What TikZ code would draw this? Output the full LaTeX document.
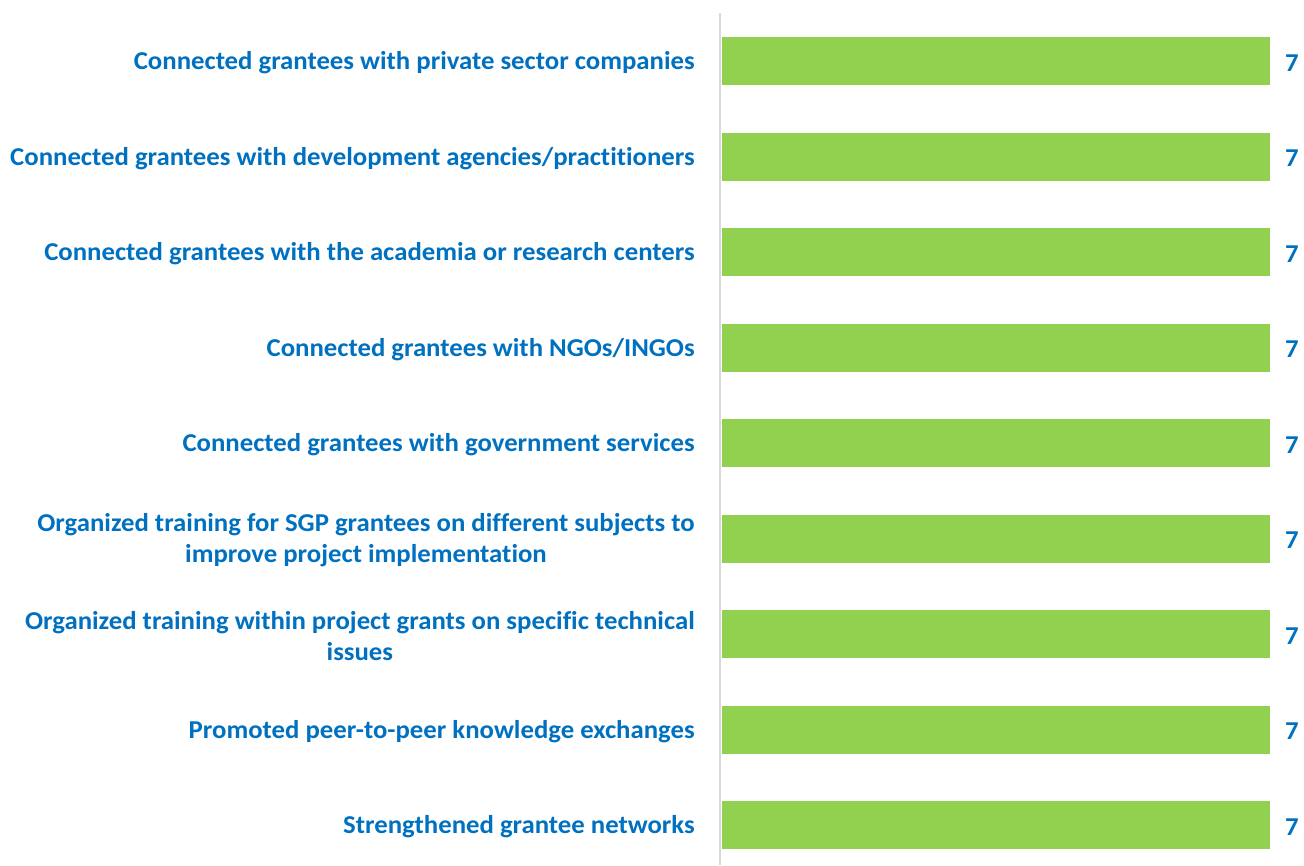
\documentclass[tikz,border=0pt]{standalone}
\usepackage{fontspec}
\setmainfont{Carlito}[Ligatures={NoCommon},FakeStretch=1.04]
\definecolor{lblue}{HTML}{0070C0}
\definecolor{bargreen}{HTML}{92D050}
\definecolor{axisgray}{HTML}{D9D9D9}
\begin{document}
\begin{tikzpicture}[x=0.75pt,y=-0.75pt,
  lbl/.style={anchor=east,align=center,text=lblue,font=\fontsize{19.3}{23.3}\selectfont\bfseries,inner sep=0pt},
  val/.style={text=lblue,font=\fontsize{19.3}{23}\selectfont\bfseries,inner sep=0pt},
  bar/.style={fill=bargreen,draw=none}]
\useasboundingbox (0,0) rectangle (1304,865);
\coordinate (axtop) at (720,13);
\coordinate (axbot) at (720,865);
\draw[axisgray,line width=1.5pt] (axtop) -- (axbot);
\foreach \i/\t in {1/{Connected grantees with private sector companies},
  2/{Connected grantees with development agencies/practitioners},
  3/{Connected grantees with the academia or research centers},
  4/{Connected grantees with NGOs/INGOs},
  5/{Connected grantees with government services},
  6/{Organized training for SGP grantees on different subjects to\\improve project implementation},
  7/{Organized training within project grants on specific technical\\issues},
  8/{Promoted peer-to-peer knowledge exchanges},
  9/{Strengthened grantee networks}}{
  \pgfmathsetmacro{\yc}{61+(\i-1)*95.5}
  \pgfmathsetmacro{\yt}{\yc+2}
  \node[bar,minimum width=548*0.75pt,minimum height=48*0.75pt,anchor=west,inner sep=0pt] (b\i) at (722,\yc) {};
  \node[lbl] (l\i) at (695,\yt) {\t};
  \node[val] (v\i) at (1292,\yt) {7};
}
\end{tikzpicture}
\end{document}
